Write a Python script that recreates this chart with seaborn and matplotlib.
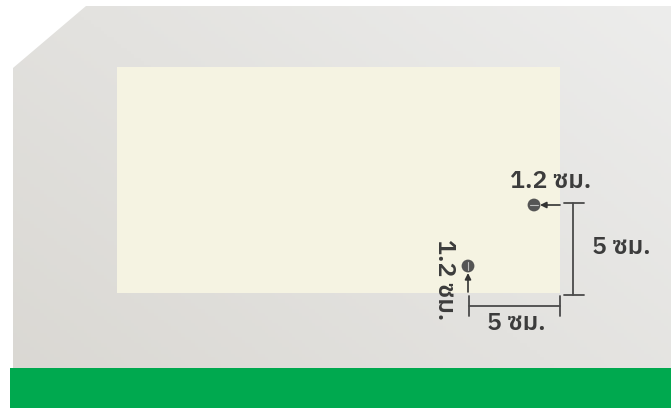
import numpy as np
import pandas as pd
import matplotlib
matplotlib.use("Agg")
import matplotlib.pyplot as plt
from matplotlib.patches import Polygon, Rectangle
import seaborn as sns

# canvas is laid out in pixels of the 671x408 picture
W, H = 671, 408

# grey panel with the cut top-left corner
panel_x = [13, 86, 671, 671, 13]
panel_y = [68, 6, 6, 368, 368]
# cream sheet
sheet = (117, 67, 443, 226)  # x, y, width, height
# green strip at the bottom
strip = (10, 368, 661, 40)

# holes and their labels
hole_x = [534, 468]
hole_y = [205, 266]
hole_text = ["1.2 ซม.", "1.2 ซม."]
hole_text_x = [551, 444]
hole_text_y = [182, 280]
hole_text_rot = [0, -90]

# dimension lines (segment id, x, y)
dim_seg = [0, 0, 1, 1, 2, 2, 3, 3, 4, 4, 5, 5]
dim_x = [573, 573, 564, 584, 564, 584, 469, 560, 469, 469, 560, 560]
dim_y = [203, 295, 203, 203, 295, 295, 306, 306, 296, 316, 296, 316]
dim_text = ["5 ซม.", "5 ซม."]
dim_text_x = [621, 516]
dim_text_y = [247, 323]

# arrows pointing at the holes (tail -> head)
arrow_tail = [(560, 205), (468, 292)]
arrow_head = [(540, 205), (468, 273)]

sns.set_theme(style="white")
plt.rcParams['font.family'] = ['IBM Plex Sans Thai', 'Noto Sans Thai', 'DejaVu Sans']

fig = plt.figure(figsize=(W / 100, H / 100), dpi=100)
ax = fig.add_axes([0, 0, 1, 1])
ax.set_xlim(0, W)
ax.set_ylim(H, 0)
ax.axis('off')

# gradient grey panel
gx, gy = np.meshgrid(np.linspace(0, 1, 200), np.linspace(0, 1, 120))
t = np.clip(0.55 * gx + 0.45 * (1 - gy), 0, 1)
c0 = np.array([0xd9, 0xd7, 0xd2]) / 255
c1 = np.array([0xed, 0xed, 0xec]) / 255
img = c0 + (c1 - c0) * t[..., None]
im = ax.imshow(img, extent=(0, W, H, 0), aspect='auto', zorder=1)
panel = Polygon(list(zip(panel_x, panel_y)), closed=True, facecolor='none', edgecolor='none')
ax.add_patch(panel)
im.set_clip_path(panel)

ax.add_patch(Rectangle(sheet[:2], sheet[2], sheet[3], facecolor='#f5f3e2', edgecolor='none', zorder=2))
ax.add_patch(Rectangle(strip[:2], strip[2], strip[3], facecolor='#00a94f', edgecolor='none', zorder=2))

ink = '#3c3c3c'

dims = pd.DataFrame({'seg': dim_seg, 'x': dim_x, 'y': dim_y})
sns.lineplot(data=dims, x='x', y='y', units='seg', estimator=None, sort=False,
             color='#4a4a4a', linewidth=1.3, ax=ax, zorder=3)

holes = pd.DataFrame({'x': hole_x, 'y': hole_y})
sns.scatterplot(data=holes, x='x', y='y', s=85, color='#555555', edgecolor='none', ax=ax, zorder=4)
# the thin slit through each hole
ax.plot([hole_x[0] - 4, hole_x[0] + 4], [hole_y[0], hole_y[0]], color='#bdbdbd', lw=0.8, zorder=5)
ax.plot([hole_x[1], hole_x[1]], [hole_y[1] - 4, hole_y[1] + 4], color='#bdbdbd', lw=0.8, zorder=5)

for (tx, ty), (hx, hy) in zip(arrow_tail, arrow_head):
    ax.annotate('', xy=(hx, hy), xytext=(tx, ty),
                arrowprops=dict(arrowstyle='-|>', color='#333333', lw=1.2,
                                mutation_scale=9, shrinkA=0, shrinkB=0), zorder=5)

for s, x, y, r in zip(hole_text, hole_text_x, hole_text_y, hole_text_rot):
    ax.text(x, y, s, rotation=r, ha='center', va='center', fontsize=18,
            fontweight='semibold', color=ink, zorder=6)
for s, x, y in zip(dim_text, dim_text_x, dim_text_y):
    ax.text(x, y, s, ha='center', va='center', fontsize=18,
            fontweight='semibold', color=ink, zorder=6)

ax.set_xlabel('')
ax.set_ylabel('')
fig.savefig('out.png', dpi=100)
